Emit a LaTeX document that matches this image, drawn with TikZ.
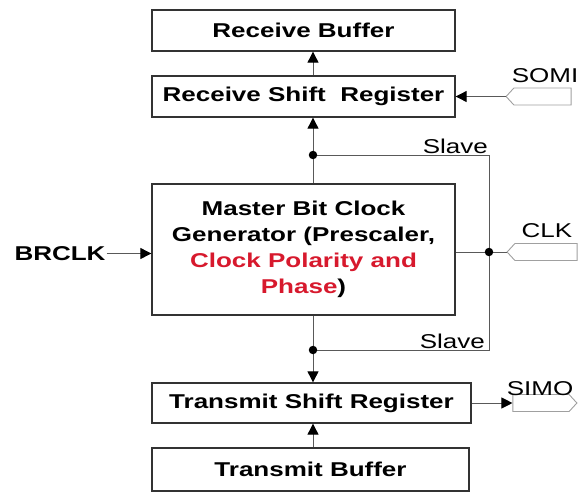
\documentclass[tikz,border=0pt]{standalone}
\usepackage{fontspec}
\setmainfont{Liberation Sans}[FakeStretch=1.3]
\usetikzlibrary{arrows.meta,shapes.symbols}
\definecolor{spired}{RGB}{215,25,45}
\definecolor{pingray}{RGB}{160,160,160}

\begin{document}
\begin{tikzpicture}[x=1pt,y=-1pt,
  blk/.style={draw=black!80,line width=1.3pt,rectangle,inner sep=0pt,align=center,
    font=\bfseries\fontsize{20}{26}\selectfont},
  pin/.style={draw=pingray,line width=0.9pt,signal,signal pointer angle=95,
    minimum height=17pt,inner sep=0pt},
  lbl/.style={font=\fontsize{20}{22}\selectfont,inner sep=1pt},
  wire/.style={draw=black!65,line width=0.9pt},
  tip/.style={-{Triangle[length=11pt,width=11pt,color=black]}},
  dot/.style={fill,circle,inner sep=3pt}]
  \useasboundingbox (0,0) rectangle (580,493);

  % Register and buffer blocks
  \node[blk,minimum width=303pt,minimum height=41pt] (rxbuf) at (303.5,30.5) {Receive Buffer};
  \node[blk,minimum width=303pt,minimum height=41pt] (rxshift) at (303.5,96.5) {Receive Shift~ Register};
  \node[blk,minimum width=303pt,minimum height=131pt] (master) at (303.5,249.5)
    {Master Bit Clock\\Generator (Prescaler,\\
     \textcolor{spired}{Clock Polarity and}\\\textcolor{spired}{Phase})};
  \node[blk,minimum width=319pt,minimum height=40pt] (txshift) at (311.5,403) {Transmit Shift Register};
  \node[blk,minimum width=317pt,minimum height=43pt] (txbuf) at (310.5,469.5) {Transmit Buffer};

  % Port pins and their names
  \node[pin,signal to=west,minimum width=65pt] (somipin) at (542.5,96.5) {};
  \node[pin,signal to=west,minimum width=70pt] (clkpin) at (546,252) {};
  \node[pin,signal to=east,minimum width=64pt] (simopin) at (541,403) {};
  \node[lbl] (somi) at (545,76) {SOMI};
  \node[lbl] (clk) at (547,231) {CLK};
  \node[lbl] (simo) at (540,389) {SIMO};
  \node[lbl,font=\bfseries\fontsize{20}{22}\selectfont] (brclk) at (60,253.5) {BRCLK};

  % Junctions of the slave clock path
  \coordinate (jup) at (313,155);
  \coordinate (jdn) at (313,350);
  \coordinate (cup) at (489,155);
  \coordinate (cdn) at (489,350);
  \coordinate (jclk) at (cup |- clkpin.west);

  % Data and clock connectors
  \draw[wire,tip] (rxshift.north -| jup) -- (rxbuf.south -| jup);
  \draw[wire,tip] (master.north -| jup) -- (rxshift.south -| jup);
  \draw[wire,tip] (master.south -| jdn) -- (txshift.north -| jdn);
  \draw[wire,tip] (txbuf.north -| jdn) -- (txshift.south -| jdn);
  \draw[wire,tip] (somipin.west) -- (rxshift.east);
  \draw[wire,tip] (txshift.east) -- (simopin.west);
  \draw[wire,tip] (brclk.east) -- (master.west |- brclk.east);
  \draw[wire] (master.east |- jclk) -- (clkpin.west);
  \draw[wire] (jup) -- (cup) -- (cdn) -- (jdn);
  \foreach \j in {jup,jdn,jclk} {\node[dot] at (\j) {};}
  \node[lbl,anchor=south east] at (cup) {Slave};
  \node[lbl,anchor=south east,xshift=-3pt] at (cdn) {Slave};
\end{tikzpicture}
\end{document}
